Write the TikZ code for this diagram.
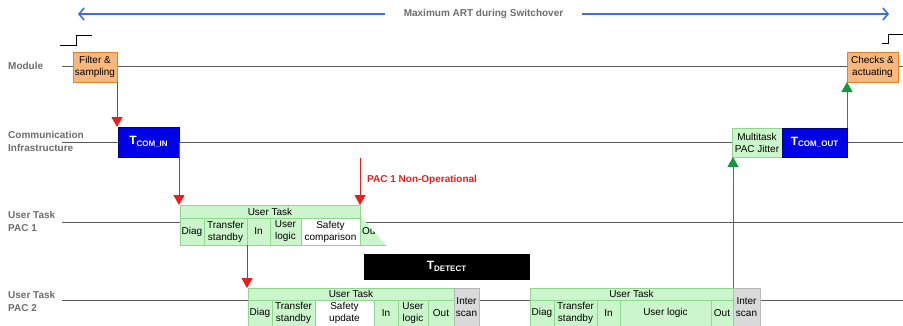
\documentclass[tikz,border=0pt]{standalone}
\usepackage{fontspec}
\setmainfont{Liberation Sans}
\usetikzlibrary{arrows.meta}
\definecolor{lblgray}{HTML}{6E6E6E}
\definecolor{linegray}{HTML}{5A5A5A}
\definecolor{orfill}{HTML}{F9B77C}
\definecolor{ordraw}{HTML}{E8802E}
\definecolor{grfill}{HTML}{CBF6CB}
\definecolor{grdraw}{HTML}{8ED88E}
\definecolor{gyfill}{HTML}{D9D9D9}
\definecolor{gydraw}{HTML}{B8B8B8}
\definecolor{bluebox}{HTML}{0000E6}
\definecolor{bluedraw}{HTML}{00008C}
\definecolor{artblue}{HTML}{3A6FE8}
\definecolor{redarr}{HTML}{EE1C1C}
\definecolor{grarr}{HTML}{109A3C}
\newcommand\mybx[7]{\node[#7, minimum width={(#4-#2)*1pt}, minimum height={(#5-#3)*1pt}] (#1) at (#2,#3) {#6};}
\begin{document}
\begin{tikzpicture}[x=1pt,y=-1pt, font=\fontsize{10}{12}\selectfont,
  lbl/.style={anchor=west, align=left, text=lblgray, font=\fontsize{10}{13}\selectfont\bfseries, inner sep=0},
  tl/.style={draw=linegray, line width=0.8pt},
  bbase/.style={anchor=north west, inner sep=0, outer sep=0, align=center, text=black, line width=0.6pt},
  orbox/.style={bbase, fill=orfill, draw=ordraw},
  grbox/.style={bbase, fill=grfill, draw=grdraw},
  whbox/.style={bbase, fill=white, draw=grdraw},
  gybox/.style={bbase, fill=gyfill, draw=gydraw},
  blbox/.style={bbase, fill=bluebox, draw=bluedraw, text=white},
  blkbox/.style={bbase, fill=black, draw=black, text=white},
  redarrow/.style={draw=redarr, line width=1pt, -{Triangle[width=11pt,length=10pt]}},
  grarrow/.style={draw=grarr, line width=1pt, -{Triangle[width=11pt,length=10pt]}},
  artarrow/.style={draw=artblue, line width=1.6pt, {Straight Barb[length=5pt,width=12pt]}-{Straight Barb[length=5pt,width=12pt]}},
  sig/.style={draw=black, line width=0.8pt}
]
\useasboundingbox (0,0) rectangle (903,325);
\fill[white] (0,0) rectangle (903,325);

% top ART arrow
\coordinate (artL) at (78,14);
\coordinate (artR) at (889,14);
\draw[artarrow] (artL) -- (artR) node[midway, fill=white, inner xsep=19pt, inner ysep=2pt, text=lblgray, font=\fontsize{10}{12}\selectfont\bfseries] (arttext) {Maximum ART during Switchover};

% step signals
\draw[sig] (60,45) -- (76,45) -- (76,35) -- (92,35);
\draw[sig] (882,43) -- (888,43) -- (888,34) -- (903,34);

% labels
\node[lbl] (lmod) at (8,66) {Module};
\node[lbl] (lcom) at (8,141) {Communication\\Infrastructure};
\node[lbl] (lp1) at (8,221.5) {User Task\\PAC 1};
\node[lbl] (lp2) at (8,301.5) {User Task\\PAC 2};

% timelines
\draw[tl] (62,66) -- (903,66);
\draw[tl] (62,142) -- (903,142);
\draw[tl] (62,222) -- (903,222);
\draw[tl] (62,300) -- (903,300);

% module boxes
\mybx{filt}{73}{52}{117}{82}{Filter \&\\sampling}{orbox}
\mybx{chk}{847}{52}{898}{82}{Checks \&\\actuating}{orbox}

% communication boxes
\mybx{tcomin}{118}{127}{179}{157}{\fontsize{12}{12}\selectfont\bfseries T\raisebox{-1.5pt}{\fontsize{8}{8}\selectfont COM\_IN}}{blbox}
\mybx{mtj}{732}{128}{782}{157}{Multitask\\PAC Jitter}{grbox}
\mybx{tcomout}{782}{128}{847}{157}{\fontsize{12}{12}\selectfont\bfseries T\raisebox{-1.5pt}{\fontsize{8}{8}\selectfont COM\_OUT}}{blbox}

% PAC 1 task
\mybx{p1head}{180}{205}{360}{218}{User Task}{grbox}
\mybx{p1diag}{180}{218}{204}{245}{Diag}{grbox}
\mybx{p1tr}{204}{218}{247}{245}{Transfer\\standby}{grbox}
\mybx{p1in}{247}{218}{270}{245}{In}{grbox}
\mybx{p1ul}{270}{218}{301}{245}{User\\logic}{grbox}
\mybx{p1sc}{301}{218}{360}{245}{Safety\\comparison}{whbox}
\fill[grfill] (360,218) -- (362,218) -- (386,245) -- (360,245) -- cycle;
\draw[grdraw, line width=0.6pt] (360,218) -- (360,245) -- (386,245);
\begin{scope}
\clip (360,218) -- (362,218) -- (386,245) -- (360,245) -- cycle;
\node[anchor=west, inner sep=0] (p1out) at (362,231) {Out};
\end{scope}

% T detect
\mybx{tdet}{364}{254}{529}{279}{\fontsize{12}{12}\selectfont\bfseries T\raisebox{-1.5pt}{\fontsize{8}{8}\selectfont DETECT}}{blkbox}

% PAC 2 task A
\mybx{p2head}{248}{288}{454}{300}{User Task}{grbox}
\mybx{p2diag}{248}{300}{272}{326}{Diag}{grbox}
\mybx{p2tr}{272}{300}{315}{326}{Transfer\\standby}{grbox}
\mybx{p2su}{315}{300}{374}{326}{Safety\\update}{whbox}
\mybx{p2in}{374}{300}{398}{326}{In}{grbox}
\mybx{p2ul}{398}{300}{428}{326}{User\\logic}{grbox}
\mybx{p2out}{428}{300}{454}{326}{Out}{grbox}
\mybx{p2is}{454}{288}{479}{326}{Inter\\scan}{gybox}

% PAC 2 task B
\mybx{p2bhead}{530}{288}{733}{300}{User Task}{grbox}
\mybx{p2bdiag}{530}{300}{554}{326}{Diag}{grbox}
\mybx{p2btr}{554}{300}{597}{326}{Transfer\\standby}{grbox}
\mybx{p2bin}{597}{300}{620}{326}{In}{grbox}
\mybx{p2bul}{620}{300}{711}{326}{User logic}{grbox}
\mybx{p2bout}{711}{300}{733}{326}{Out}{grbox}
\mybx{p2bis}{733}{288}{760}{326}{Inter\\scan}{gybox}

% non-operational marker
\coordinate (nonop) at (360,158);
\node[anchor=west, inner sep=0, text=redarr, font=\fontsize{10}{12}\selectfont\bfseries] (nonoptext) at (367,180) {PAC 1 Non-Operational};

% connectors
\draw[redarrow] (filt.south east) -- (filt.south east |- tcomin.north);
\draw[redarrow] (tcomin.east) -- (tcomin.east |- p1head.north);
\draw[redarrow] (nonop) -- (nonop |- p1head.north);
\draw[redarrow] (p1tr.south east) -- (p1tr.south east |- p2head.north);
\draw[grarrow] (p2bhead.north east) -- (p2bhead.north east |- mtj.south);
\draw[grarrow] (tcomout.north east) -- (tcomout.north east |- chk.south);
\end{tikzpicture}
\end{document}
